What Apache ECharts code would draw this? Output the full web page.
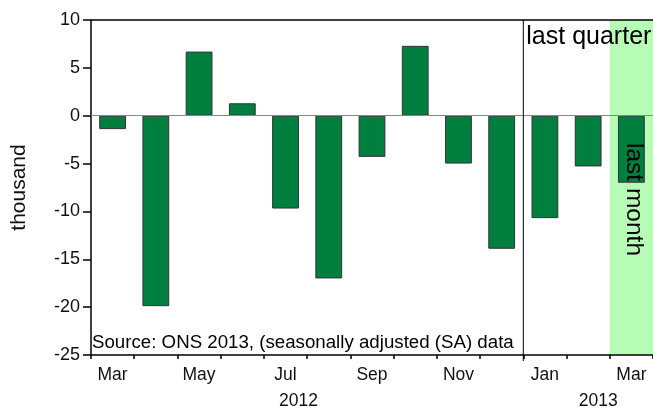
<!DOCTYPE html>
<html>
<head>
<meta charset="utf-8">
<script src="https://cdn.jsdelivr.net/npm/echarts@6/dist/echarts.min.js"></script>
<style>
html,body{margin:0;padding:0;background:#fff}
#chart{width:653px;height:409px}
</style>
</head>
<body>
<div id="chart"></div>
<script>
// monthly change, thousands (SA), Mar 2012 - Mar 2013
var months = ['Mar','Apr','May','Jun','Jul','Aug','Sep','Oct','Nov','Dec','Jan','Feb','Mar'];
var values = [-1.4, -19.9, 6.7, 1.3, -9.7, -17.0, -4.3, 7.3, -5.0, -13.9, -10.7, -5.3, -7.0];
var yMin = -25, yMax = 10, yStep = 5;
var years = ['2012', '2013'];

var font = "'Liberation Sans', Arial, sans-serif";
var myChart = echarts.init(document.getElementById('chart'));

var option = {
    animation: false,
    grid: {left: 91, right: 0, top: 20, bottom: 54, show: false, outerBoundsMode: 'none'},
    xAxis: {
        type: 'category',
        data: months,
        axisLine: {onZero: false, lineStyle: {color: '#000', width: 1.5}},
        axisTick: {show: true, interval: 0, length: 4, lineStyle: {color: '#000', width: 1.5}},
        axisLabel: {interval: 1, margin: 11, color: '#111', fontSize: 17.5, fontFamily: font}
    },
    yAxis: {
        type: 'value',
        min: yMin, max: yMax, interval: yStep,
        name: 'thousand',
        nameLocation: 'middle',
        nameGap: 61,
        nameTextStyle: {fontSize: 21, color: '#111', fontFamily: font},
        splitLine: {show: false},
        axisLine: {show: true, lineStyle: {color: '#000', width: 1.5}},
        axisTick: {show: true, length: 8, lineStyle: {color: '#000', width: 1.5}},
        axisLabel: {margin: 11, color: '#111', fontSize: 18, fontFamily: font}
    },
    series: [{
        type: 'bar',
        data: values,
        barCategoryGap: '38%',
        itemStyle: {color: '#007f3f', borderColor: '#333', borderWidth: 1},
        markLine: {
            silent: true,
            symbol: 'none',
            label: {show: false},
            lineStyle: {color: '#888', type: 'solid', width: 1},
            data: [{yAxis: 0}]
        }
    }]
};
myChart.setOption(option);

// annotation positions from the axes
var xc = function(i){ return myChart.convertToPixel({xAxisIndex: 0}, i); };
var yc = function(v){ return myChart.convertToPixel({yAxisIndex: 0}, v); };
var halfBand = (xc(1) - xc(0)) / 2;
var plotTop = yc(yMax), plotBot = yc(yMin);
var plotLeft = xc(0) - halfBand;
var janX = xc(10) - halfBand, marX = xc(12) - halfBand;
var rightX = xc(12) + halfBand;

myChart.setOption({
    graphic: [
        {type: 'rect', z: 0, silent: true,
         shape: {x: marX, y: plotTop, width: rightX - marX, height: plotBot - plotTop},
         style: {fill: '#b6fcb6'}},
        {type: 'line', z: 50, silent: true,
         shape: {x1: plotLeft, y1: plotTop, x2: rightX, y2: plotTop},
         style: {stroke: '#000', lineWidth: 1.5}},
        {type: 'line', z: 50, silent: true,
         shape: {x1: janX, y1: plotTop, x2: janX, y2: plotBot + 6},
         style: {stroke: '#000', lineWidth: 1}},
        {type: 'text', z: 50, silent: true, x: janX + 3, y: plotTop + 17,
         style: {text: 'last quarter', fontSize: 25, fontFamily: font, fill: '#000', textVerticalAlign: 'middle'}},
        {type: 'text', z: 50, silent: true, x: 634, y: 143, rotation: -Math.PI / 2,
         style: {text: 'last month', fontSize: 24.5, fontFamily: font, fill: '#000', textAlign: 'left', textVerticalAlign: 'middle'}},
        {type: 'text', z: 50, silent: true, x: plotLeft + 1, y: plotBot - 12,
         style: {text: 'Source: ONS 2013, (seasonally adjusted (SA) data', fontSize: 18.7, fontFamily: font, fill: '#000', textVerticalAlign: 'middle'}},
        {type: 'text', z: 50, silent: true, x: xc(4) + 13, y: 401,
         style: {text: years[0], fontSize: 17.5, fontFamily: font, fill: '#111', textAlign: 'center', textVerticalAlign: 'middle'}},
        {type: 'text', z: 50, silent: true, x: xc(11) + 10, y: 401,
         style: {text: years[1], fontSize: 17.5, fontFamily: font, fill: '#111', textAlign: 'center', textVerticalAlign: 'middle'}}
    ]
});
</script>
</body>
</html>
